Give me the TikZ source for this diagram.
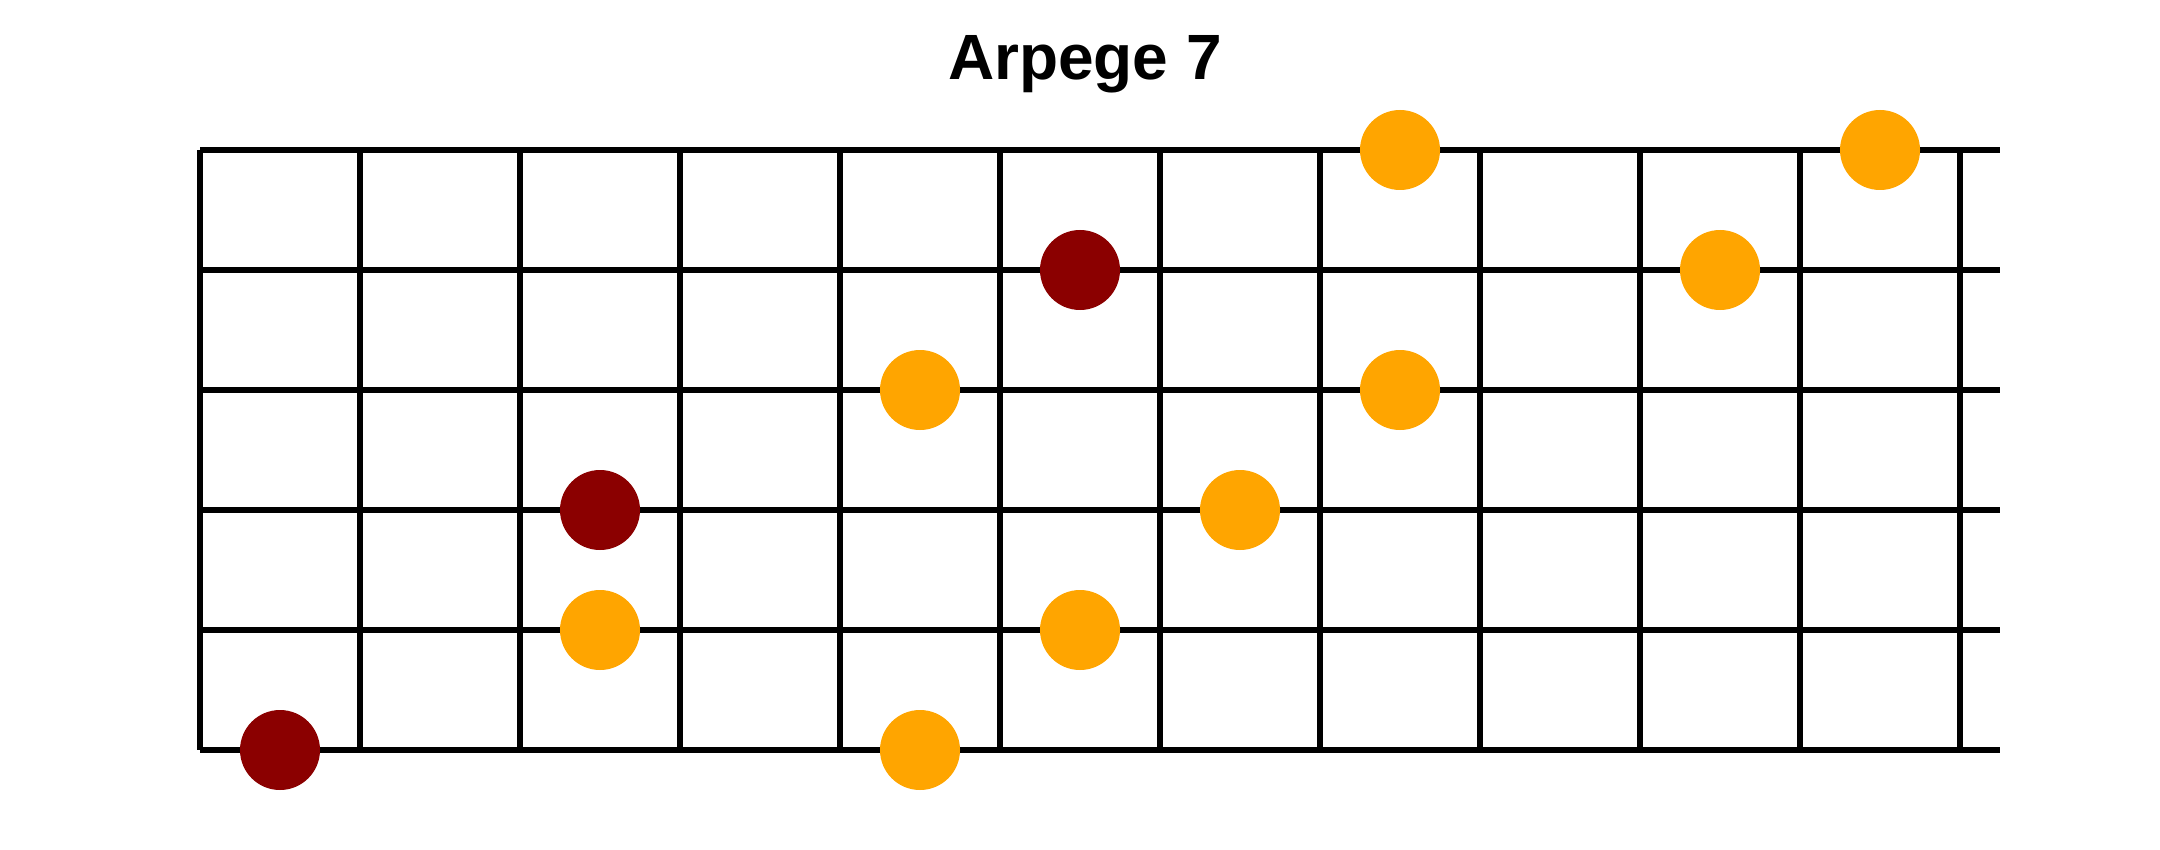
\documentclass[tikz,border=0pt]{standalone}
\usepackage{fontspec}
\setmainfont{Liberation Sans}
\definecolor{rootred}{HTML}{8B0000}
\definecolor{noteorange}{HTML}{FFA500}
\begin{document}
\begin{tikzpicture}[x=1pt,y=-1pt,
  gridline/.style={line width=6pt,black,line cap=butt},
  rootdot/.style={circle,fill=rootred,minimum size=80pt,inner sep=0pt,draw=none},
  notedot/.style={circle,fill=noteorange,minimum size=80pt,inner sep=0pt,draw=none},
  titletext/.style={font=\bfseries\fontsize{64}{70}\selectfont,anchor=base,inner sep=0pt}]
\useasboundingbox[fill=white] (0,0) rectangle (2160,850);
% frets
\foreach \i in {0,...,11}{
  \draw[gridline] ({200+160*\i},150) -- ({200+160*\i},750);
}
% strings
\foreach \j in {0,...,5}{
  \draw[gridline] (200,{150+120*\j}) -- (2000,{150+120*\j});
}
\node[titletext] (title) at (1085,80) {Arpege 7};
% dots
\node[notedot] (d1) at ({280+160*7},150) {};
\node[notedot] (d2) at ({280+160*10},150) {};
\node[rootdot] (d3) at ({280+160*5},270) {};
\node[notedot] (d4) at ({280+160*9},270) {};
\node[notedot] (d5) at ({280+160*4},390) {};
\node[notedot] (d6) at ({280+160*7},390) {};
\node[rootdot] (d7) at ({280+160*2},510) {};
\node[notedot] (d8) at ({280+160*6},510) {};
\node[notedot] (d9) at ({280+160*2},630) {};
\node[notedot] (d10) at ({280+160*5},630) {};
\node[rootdot] (d11) at ({280+160*0},750) {};
\node[notedot] (d12) at ({280+160*4},750) {};
\end{tikzpicture}
\end{document}
